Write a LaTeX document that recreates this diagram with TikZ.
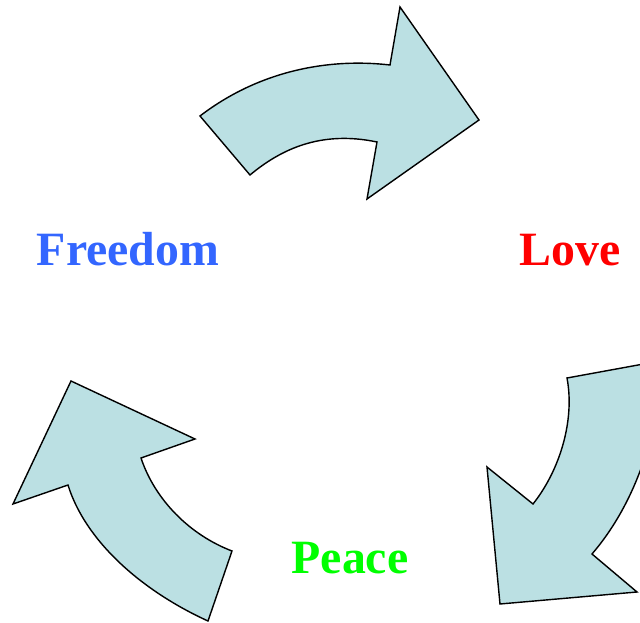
\documentclass[tikz,border=0pt]{standalone}
\usepackage{fontspec}
\setmainfont{Liberation Serif}
\usepackage{tikz}
\usetikzlibrary{positioning}
\definecolor{arrowfill}{RGB}{187,224,227}
\definecolor{freeblue}{RGB}{51,102,255}

\begin{document}
\begin{tikzpicture}[x=0.025cm, y=-0.025cm,
  cyclearrow/.style={draw=black, line width=1pt, fill=arrowfill, line join=miter},
  word/.style={font=\fontsize{34}{38}\selectfont\bfseries, anchor=base, inner sep=0pt}]
\useasboundingbox (0,0) rectangle (640,623);
\clip (0,0) rectangle (640,623);
% top arrow
\draw[cyclearrow] (200,116) .. controls (260,70) and (330,58) .. (390,65)
  -- (400,7) -- (479,120) -- (367,199) -- (377,142)
  .. controls (320,130) and (280,150) .. (250,175) -- cycle;
% right arrow
\draw[cyclearrow] (660,361) -- (567,378) .. controls (575,420) and (560,470) .. (533,504)
  -- (487,467) -- (500,604) -- (637,592) -- (592,554)
  .. controls (630,510) and (660,440) .. (660,361) -- cycle;
% left arrow
\draw[cyclearrow] (208,621) .. controls (140,590) and (85,540) .. (68,485)
  -- (13,504) -- (71,381) -- (195,439) -- (141,458)
  .. controls (155,500) and (190,535) .. (232,551) -- cycle;
\node[word, text=freeblue] (freedom) at (128,266) {Freedom};
\node[word, text=red] (love) at (570,266) {Love};
\node[word, text=green] (peace) at (350,574) {Peace};
\end{tikzpicture}
\end{document}
